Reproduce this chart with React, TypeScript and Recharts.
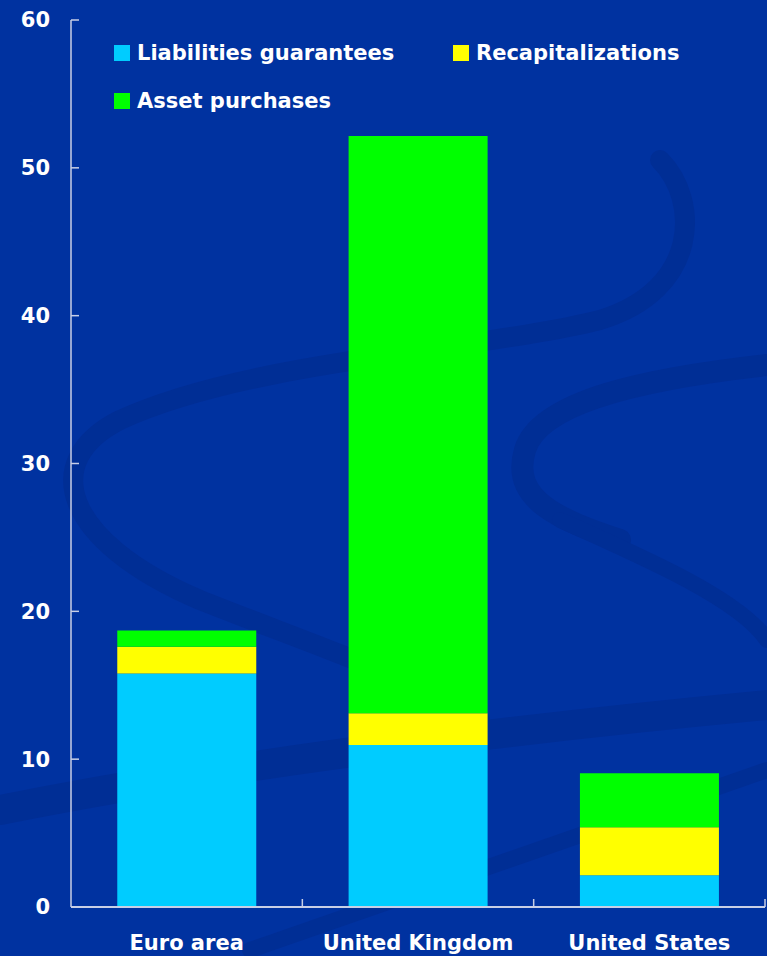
import React from "react";
import { BarChart, Bar, XAxis, YAxis, Legend } from "recharts";

// Bank rescue measures by type, % of GDP
const regions = ["Euro area", "United Kingdom", "United States"];
const liabilitiesGuarantees = [15.8, 10.95, 2.15];
const recapitalizations = [1.8, 2.15, 3.25];
const assetPurchases = [1.1, 39.05, 3.65];
const yTicks = [0, 10, 20, 30, 40, 50, 60];
const seriesOrder = ["liabilities", "recap", "assets"];

const data = regions.map((name, i) => ({
  name,
  liabilities: liabilitiesGuarantees[i],
  recap: recapitalizations[i],
  assets: assetPurchases[i],
}));

const W = 767;
const H = 956;
const LEFT = 71;
const RIGHT = 2;
const FONT = "'DejaVu Sans', Verdana, sans-serif";
const BG = "#0032a0";
const SWIRL = "#002e95";

const halfBand = (W - LEFT - RIGHT) / regions.length / 2;

function XTick(props: any) {
  const { x, y, payload } = props;
  return (
    <g>
      <line x1={x + halfBand} x2={x + halfBand} y1={y} y2={y - 8} stroke="#c8cfe6" strokeWidth={1.5} />
      <text x={x} y={y + 43} textAnchor="middle" fill="#fff" fontSize={21} fontWeight="bold" fontFamily={FONT}>
        {payload.value}
      </text>
    </g>
  );
}

function LegendBox(props: any) {
  const items = props.payload || [];
  return (
    <div
      style={{
        display: "grid",
        gridTemplateColumns: "339px auto",
        gridAutoRows: "48px",
        fontFamily: FONT,
        fontWeight: "bold",
        fontSize: 21,
        color: "#fff",
      }}
    >
      {items.map((it: any) => (
        <div key={it.value} style={{ display: "flex", alignItems: "center", whiteSpace: "nowrap" }}>
          <span style={{ width: 16, height: 16, background: it.color, marginRight: 7, display: "inline-block" }} />
          {it.value}
        </div>
      ))}
    </div>
  );
}

function Backdrop() {
  return (
    <svg width={W} height={H} style={{ position: "absolute", left: 0, top: 0 }}>
      <rect width={W} height={H} fill={BG} />
      <g fill="none" stroke={SWIRL} strokeLinecap="round">
        <path d="M660 160 C700 200 700 290 600 320 C480 350 250 360 120 420 C40 460 60 540 200 600 C300 640 420 680 480 720" strokeWidth={20} />
        <path d="M767 365 C650 378 540 400 525 450 C510 500 560 520 620 540" strokeWidth={22} />
        <path d="M560 520 C650 560 740 600 767 640" strokeWidth={16} />
        <path d="M0 810 C200 770 450 735 767 705" strokeWidth={30} />
        <path d="M250 950 C450 880 620 820 767 770" strokeWidth={16} />
      </g>
    </svg>
  );
}

export default function App() {
  return (
    <div style={{ position: "absolute", left: 0, top: 0, width: W, height: H, overflow: "hidden" }}>
      <Backdrop />
      <div style={{ position: "absolute", left: 0, top: 0 }}>
        <BarChart
          width={W}
          height={H}
          data={data}
          margin={{ top: 20, right: RIGHT, bottom: 0, left: 0 }}
          barCategoryGap="20%"
        >
          <XAxis
            dataKey="name"
            height={49}
            tickLine={false}
            tickSize={0}
            tickMargin={0}
            axisLine={{ stroke: "#c8cfe6", strokeWidth: 2 }}
            tick={<XTick />}
            interval={0}
          />
          <YAxis
            width={LEFT}
            domain={[0, 60]}
            ticks={yTicks}
            interval={0}
            tickSize={-8}
            tickMargin={29}
            axisLine={{ stroke: "#c8cfe6", strokeWidth: 1.5 }}
            tickLine={{ stroke: "#c8cfe6", strokeWidth: 1.5 }}
            tick={{ fill: "#fff", fontSize: 21, fontWeight: "bold", fontFamily: FONT }}
          />
          <Legend
            layout="horizontal"
            verticalAlign="middle"
            align="center"
            itemSorter={(item: any) => seriesOrder.indexOf(item.dataKey)}
            content={<LegendBox />}
            wrapperStyle={{ top: 29, left: 114, width: 600 }}
          />
          <Bar dataKey="liabilities" name="Liabilities guarantees" stackId="a" fill="#00ccff" isAnimationActive={false} />
          <Bar dataKey="recap" name="Recapitalizations" stackId="a" fill="#ffff00" isAnimationActive={false} />
          <Bar dataKey="assets" name="Asset purchases" stackId="a" fill="#00ff00" isAnimationActive={false} />
        </BarChart>
      </div>
    </div>
  );
}
